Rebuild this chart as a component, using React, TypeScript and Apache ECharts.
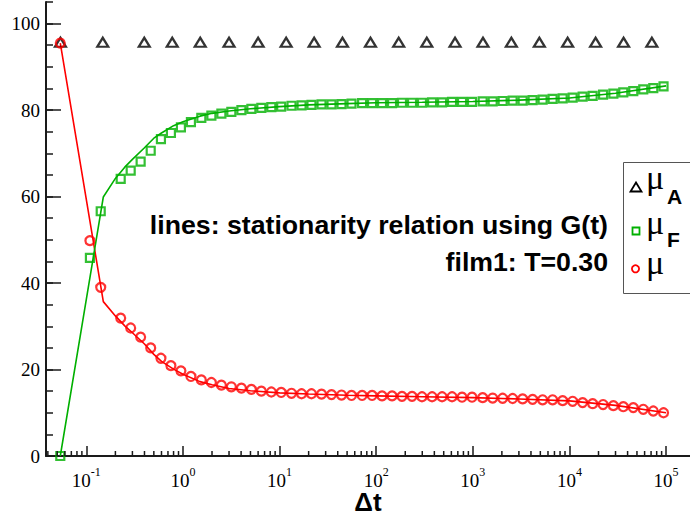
import React, { useEffect, useRef } from 'react';
import * as echarts from 'echarts';

// ---- data ----
const muAX = [0.054, 0.148, 0.398, 0.775, 1.51, 3.0, 6.0, 11.7, 22.8, 44.8, 87.3, 171, 334, 655, 1275, 2507, 4884, 9580, 18660, 36350, 71300];
const muAValues = [95.7, 95.7, 95.7, 95.7, 95.7, 95.7, 95.7, 95.7, 95.7, 95.7, 95.7, 95.7, 95.7, 95.7, 95.7, 95.7, 95.7, 95.7, 95.7, 95.7, 95.7];

const dtX = [0.0538, 0.109, 0.141, 0.227, 0.288, 0.365, 0.464, 0.592, 0.751, 0.953, 1.21, 1.55, 1.97, 2.5, 3.17, 4.03, 5.11, 6.48, 8.22, 10.4, 13.3, 16.9, 21.4, 27.2, 34.5, 43.8, 55.6, 71.5, 90.7, 115, 146, 185, 235, 298, 379, 481, 610, 774, 982, 1265, 1606, 2037, 2584, 3280, 4160, 5280, 6700, 8510, 10800, 13700, 17400, 22300, 28500, 36100, 45800, 58100, 73800, 94200];
const muFValues = [0, 45.8, 56.6, 64.1, 66.0, 68.1, 70.6, 73.3, 74.7, 76.0, 77.2, 78.2, 78.7, 79.2, 79.6, 80.0, 80.3, 80.5, 80.7, 80.8, 81.0, 81.1, 81.2, 81.3, 81.3, 81.4, 81.5, 81.6, 81.6, 81.6, 81.6, 81.7, 81.7, 81.7, 81.8, 81.8, 81.9, 81.9, 81.9, 82.0, 82.0, 82.1, 82.2, 82.2, 82.3, 82.4, 82.6, 82.7, 82.9, 83.1, 83.3, 83.6, 83.8, 84.1, 84.4, 84.8, 85.1, 85.5];
const muValues = [95.5, 49.8, 39.0, 31.9, 29.6, 27.5, 25.0, 22.6, 20.9, 19.7, 18.4, 17.6, 17.0, 16.4, 16.0, 15.7, 15.4, 15.0, 14.8, 14.7, 14.5, 14.4, 14.4, 14.3, 14.2, 14.1, 14.0, 14.0, 14.0, 13.9, 13.9, 13.8, 13.8, 13.7, 13.7, 13.7, 13.7, 13.6, 13.6, 13.5, 13.4, 13.35, 13.3, 13.2, 13.1, 13.0, 13.0, 12.8, 12.65, 12.35, 12.1, 11.9, 11.65, 11.4, 11.2, 10.8, 10.4, 10.0];

const lineX = [0.0538, 0.15, 0.2, 0.25, 0.3, 0.4, 0.5, 0.6, 0.8, 1, 1.5, 2, 3, 5, 10, 20, 50, 100, 300, 1000, 3000, 10000, 30000, 100000];
const muFLine = [0, 59.9, 64.2, 66.8, 68.6, 71.3, 73.5, 74.7, 76.4, 77.3, 78.6, 79.25, 79.8, 80.3, 80.8, 81.2, 81.5, 81.7, 81.8, 82.0, 82.3, 82.8, 83.9, 85.6];
const muLine = [95.5, 35.7, 32.4, 30.1, 28.5, 25.9, 23.5, 21.9, 20.1, 18.9, 17.2, 16.5, 15.6, 15.1, 14.6, 14.35, 14.05, 13.9, 13.7, 13.5, 13.2, 12.75, 11.7, 10.0];

const xMajorTicks = [0.1, 1, 10, 100, 1000, 10000, 100000];
const yLabelTicks = [0, 20, 40, 60, 80, 100];
const annotationLines = ['lines: stationarity relation using G(t)', 'film1: T=0.30'];
const legendItems = [
  { main: 'μ', sub: 'A' },
  { main: 'μ', sub: 'F' },
  { main: 'μ', sub: '' },
];

const X_MIN = 0.03827;
const X_MAX = 177000;
const GREEN = '#00b000';
const RED = '#ff0000';
const AXIS = '#1a1a1a';

function minorTickValues(): number[] {
  const out: number[] = [];
  for (let k = -2; k <= 5; k++) {
    for (let m = 2; m <= 9; m++) {
      const v = m * Math.pow(10, k);
      if (v > X_MIN && v < X_MAX) out.push(v);
    }
  }
  return out;
}

export default function App() {
  const ref = useRef<HTMLDivElement>(null);
  useEffect(() => {
    if (!ref.current) return;
    const chart = echarts.init(ref.current, undefined, { renderer: 'svg' });
    const zip = (xs: number[], ys: number[]) => xs.map((x, i) => [x, ys[i]]);
    const legendGraphics: any[] = [
      { type: 'rect', z: 100, shape: { x: 623.5, y: 162.5, width: 90, height: 131 }, style: { fill: '#fff', stroke: '#555', lineWidth: 1 } },
      { type: 'polygon', z: 101, shape: { points: [[630.5, 191.5], [641.5, 191.5], [636, 182.5]] }, style: { fill: 'none', stroke: '#000', lineWidth: 1.8 } },
      { type: 'rect', z: 101, shape: { x: 632.5, y: 227.5, width: 7, height: 7 }, style: { fill: 'none', stroke: GREEN, lineWidth: 1.8 } },
      { type: 'circle', z: 101, shape: { cx: 635.5, cy: 268.8, r: 3.6 }, style: { fill: 'none', stroke: RED, lineWidth: 1.8 } },
    ];
    const muY = [177, 222, 262];
    const subY = [196, 239, 0];
    legendItems.forEach((it, i) => {
      legendGraphics.push({ type: 'text', z: 102, style: { text: it.main, x: 646, y: muY[i], fontFamily: 'Liberation Serif', fontSize: 34, fill: '#000', verticalAlign: 'middle' } });
      if (it.sub) {
        legendGraphics.push({ type: 'text', z: 102, style: { text: it.sub, x: 667, y: subY[i], fontFamily: 'Liberation Sans', fontWeight: 'bold', fontSize: 21, fill: '#000', verticalAlign: 'middle' } });
      }
    });
    const annY = [225, 262];
    annotationLines.forEach((t, i) => {
      legendGraphics.push({ type: 'text', z: 102, style: { text: t, x: 608, y: annY[i], align: 'right', verticalAlign: 'middle', fontFamily: 'Liberation Sans', fontWeight: 'bold', fontSize: 26.7, fill: '#000' } });
    });

    const option: any = {
      animation: false,
      backgroundColor: '#fff',
      grid: { left: 46, right: 0, top: 2, bottom: 61, containLabel: false, outerBoundsMode: 'none' },
      xAxis: {
        type: 'log',
        min: X_MIN,
        max: X_MAX,
        logBase: 10,
        name: 'Δt',
        nameLocation: 'middle',
        nameGap: 37,
        nameMoveOverlap: false,
        nameTextStyle: { fontFamily: 'Liberation Sans', fontWeight: 'bold', fontSize: 26, lineHeight: 18, color: '#000' },
        axisLine: { show: true, lineStyle: { color: AXIS, width: 2 } },
        axisTick: { show: true, inside: true, length: 10, customValues: xMajorTicks, lineStyle: { color: AXIS, width: 1.5 } },
        axisLabel: {
          customValues: xMajorTicks,
          margin: 14,
          formatter: (v: number) => `{b|10}{s|${Math.round(Math.log10(v))}}`,
          rich: {
            b: { fontFamily: 'Liberation Serif', fontSize: 19, lineHeight: 20, color: '#000' },
            s: { fontFamily: 'Liberation Serif', fontSize: 12, lineHeight: 20, color: '#000', padding: [0, 0, 16, 0] },
          },
        },
        splitLine: { show: false },
        minorTick: { show: false },
      },
      yAxis: [
        {
          type: 'value',
          min: 0,
          max: 105,
          interval: 5,
          position: 'left',
          axisLine: { show: true, lineStyle: { color: AXIS, width: 2 } },
          axisTick: { show: true, inside: true, length: 7, lineStyle: { color: AXIS, width: 1.5 } },
          axisLabel: { customValues: yLabelTicks, margin: 6, fontFamily: 'Liberation Serif', fontSize: 19, color: '#000' },
          splitLine: { show: false },
        },
        {
          type: 'value',
          min: 0,
          max: 105,
          interval: 20,
          position: 'left',
          offset: 0,
          axisLine: { show: false },
          axisTick: { show: true, inside: true, length: 15, customValues: yLabelTicks, lineStyle: { color: AXIS, width: 1.5 } },
          axisLabel: { show: false },
          splitLine: { show: false },
        },
      ],
      graphic: legendGraphics,
      series: [
        {
          name: 'μ line',
          type: 'line',
          data: zip(lineX, muLine),
          showSymbol: false,
          lineStyle: { color: RED, width: 1.6 },
          z: 2,
        },
        {
          name: 'μF line',
          type: 'line',
          data: zip(lineX, muFLine),
          showSymbol: false,
          lineStyle: { color: GREEN, width: 1.6 },
          z: 2,
        },
        {
          name: 'μA',
          type: 'scatter',
          data: zip(muAX, muAValues),
          symbol: 'triangle',
          symbolSize: [11, 9],
          itemStyle: { color: 'rgba(0,0,0,0)', borderColor: '#000', borderWidth: 2.2 },
          z: 3,
        },
        {
          name: 'μF',
          type: 'scatter',
          data: zip(dtX, muFValues),
          symbol: 'rect',
          symbolSize: 8,
          itemStyle: { color: 'rgba(0,0,0,0)', borderColor: GREEN, borderWidth: 2.2 },
          z: 3,
        },
        {
          name: 'μ',
          type: 'scatter',
          data: zip(dtX, muValues),
          symbol: 'circle',
          symbolSize: 9,
          itemStyle: { color: 'rgba(0,0,0,0)', borderColor: RED, borderWidth: 2.2 },
          z: 3,
        },
        {
          name: 'minor ticks',
          type: 'custom',
          silent: true,
          clip: false,
          data: minorTickValues().map((v) => [v, 0]),
          encode: { x: 0, y: 1 },
          renderItem: (_params: any, api: any) => {
            const p = api.coord([api.value(0), 0]);
            return {
              type: 'line',
              shape: { x1: p[0], y1: p[1], x2: p[0], y2: p[1] - 5 },
              style: { stroke: AXIS, lineWidth: 1.5 },
            };
          },
          z: 4,
        },
      ],
    };
    chart.setOption(option);
    return () => chart.dispose();
  }, []);
  return <div ref={ref} style={{ position: 'absolute', left: 0, top: 0, width: 690, height: 517 }} />;
}
